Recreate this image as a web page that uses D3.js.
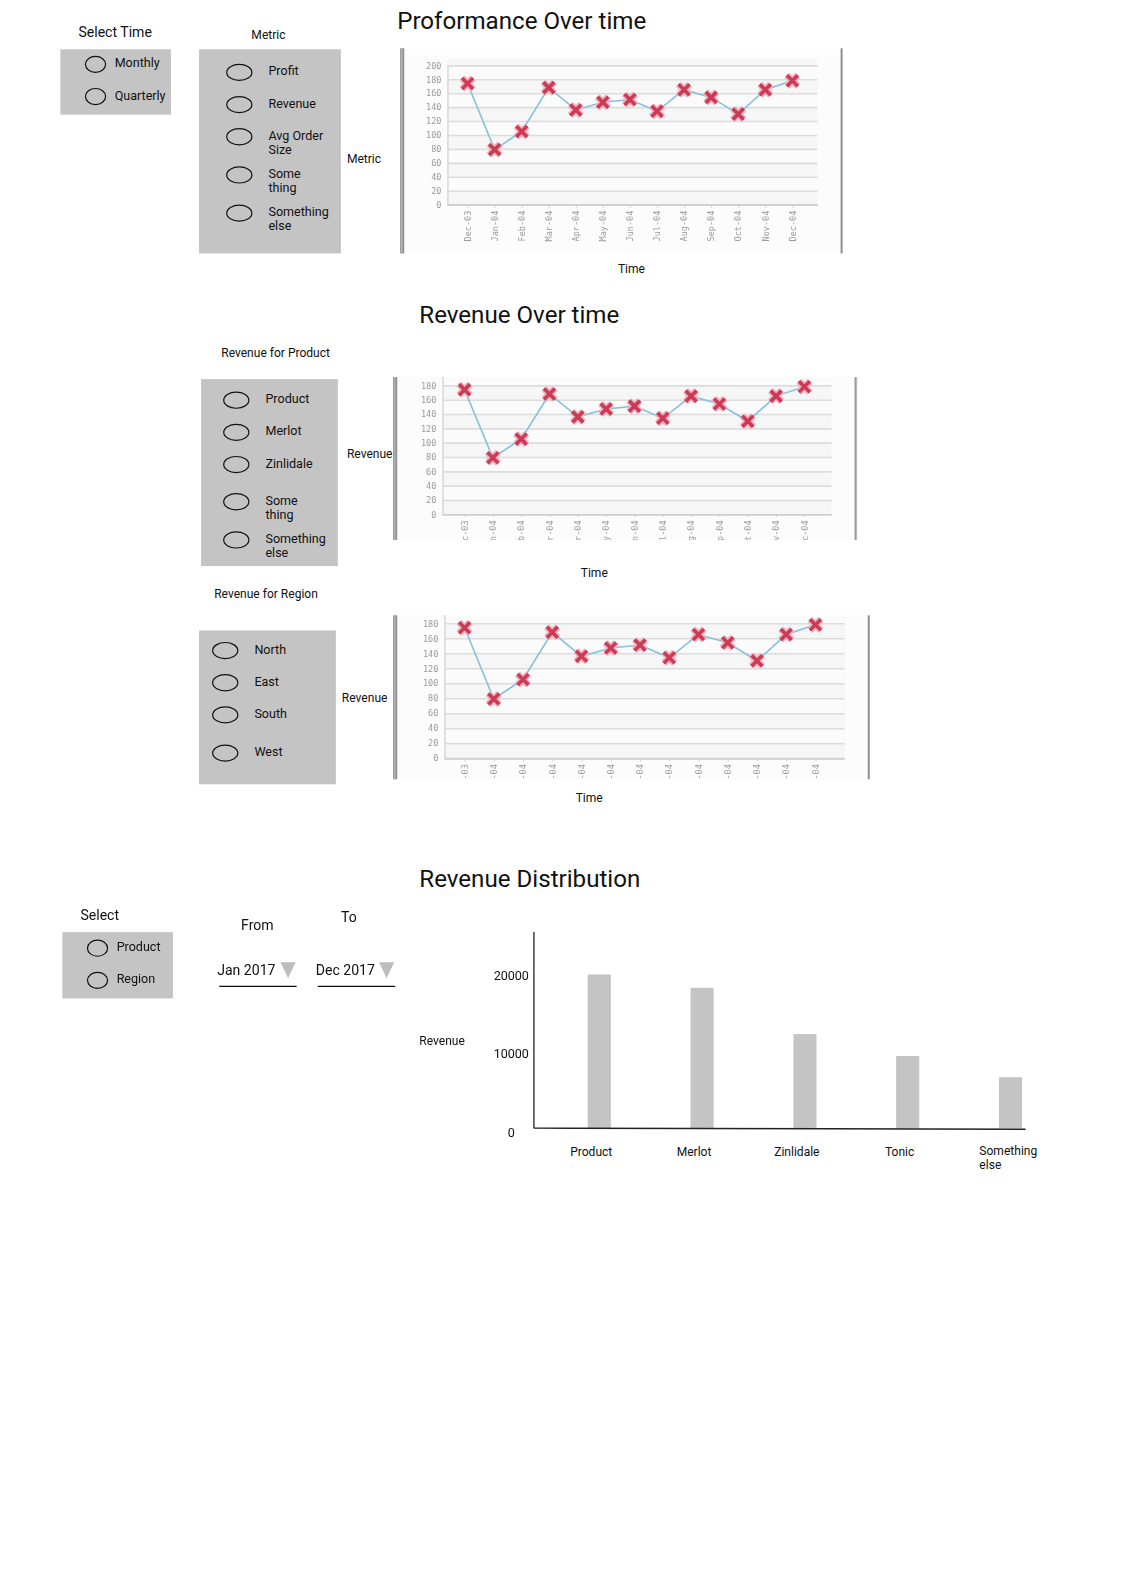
<!DOCTYPE html>
<html>
<head>
<meta charset="utf-8">
<script src="https://cdn.jsdelivr.net/npm/d3@7"></script>
<style>
  html, body { margin: 0; padding: 0; background: #fff; }
  svg { display: block; font-family: Roboto, "Noto Sans", sans-serif; }
</style>
</head>
<body>
<svg id="page" width="1127" height="1576"></svg>
<script>
// ---------------- DATA ----------------
const months = ["Dec-03","Jan-04","Feb-04","Mar-04","Apr-04","May-04","Jun-04","Jul-04","Aug-04","Sep-04","Oct-04","Nov-04","Dec-04"];
const performanceValues = [174, 79, 105, 168, 136, 147, 151, 134, 165, 154, 130, 165, 178];
const revenueProductValues = [174, 79, 105, 168, 136, 147, 151, 134, 165, 154, 130, 165, 178];
const revenueRegionValues = [174, 79, 105, 168, 136, 147, 151, 134, 165, 154, 130, 165, 178];
const lineTicks = [0, 20, 40, 60, 80, 100, 120, 140, 160, 180, 200];

const timeOptions = ["Monthly", "Quarterly"];
const metricOptions = [["Profit"], ["Revenue"], ["Avg Order", "Size"], ["Some", "thing"], ["Something", "else"]];
const productOptions = [["Product"], ["Merlot"], ["Zinlidale"], ["Some", "thing"], ["Something", "else"]];
const regionOptions = [["North"], ["East"], ["South"], ["West"]];
const selectOptions = ["Product", "Region"];

const barCategories = ["Product", "Merlot", "Zinlidale", "Tonic", "Something else"];
const barValues = [19600, 17900, 12000, 9200, 6500];
const barTicks = [0, 10000, 20000];

// ---------------- PAGE ----------------
const page = d3.select("#page");
page.append("rect").attr("width", 1127).attr("height", 1576).attr("fill", "#fff");

const defs = page.append("defs");
defs.append("filter").attr("id", "soft")
  .append("feGaussianBlur").attr("stdDeviation", 0.45);

const svg = page.append("g").attr("transform", "scale(1.0055)");

function text(x, y, str, size, opts = {}) {
  return svg.append("text")
    .attr("x", x).attr("y", y)
    .attr("font-size", size)
    .attr("fill", opts.fill || "#111")
    .attr("text-anchor", opts.anchor || "start")
    .attr("dominant-baseline", "central")
    .text(str);
}

// Titles
text(395, 21, "Proformance Over time", 24);
text(417, 313, "Revenue Over time", 24);
text(417, 874, "Revenue Distribution", 24);

// Radio panel
function radioPanel(box, items, cfg) {
  svg.append("rect").attr("x", box.x).attr("y", box.y).attr("width", box.w).attr("height", box.h)
    .attr("fill", "#c4c4c4");
  items.forEach((lines, i) => {
    const arr = Array.isArray(lines) ? lines : [lines];
    const cy = cfg.ys[i];
    svg.append("ellipse").attr("cx", cfg.cx).attr("cy", cy)
      .attr("rx", cfg.rx).attr("ry", cfg.ry)
      .attr("fill", "none").attr("stroke", "#111").attr("stroke-width", 1.2);
    arr.forEach((t, j) => {
      text(cfg.lx, cy - 1.5 + j * 14, t, 12.5);
    });
  });
}

// Select Time
text(78, 32, "Select Time", 14);
radioPanel({x: 60, y: 49, w: 110, h: 65}, timeOptions, {cx: 95, rx: 10, ry: 8, lx: 114, ys: [64, 96]});

// Metric
text(250, 35, "Metric", 12);
radioPanel({x: 198, y: 49, w: 141, h: 203}, metricOptions, {cx: 238, rx: 12.5, ry: 8, lx: 267, ys: [72, 104, 136, 174, 212]});
text(345, 158, "Metric", 12);
text(628, 268, "Time", 12, {anchor: "middle"});

// Revenue for Product
text(220, 351, "Revenue for Product", 12);
radioPanel({x: 200, y: 377, w: 136, h: 186}, productOptions, {cx: 235, rx: 12.5, ry: 8, lx: 264, ys: [398, 430, 462, 499, 537]});
text(345, 452, "Revenue", 12);
text(591, 570, "Time", 12, {anchor: "middle"});

// Revenue for Region
text(213, 591, "Revenue for Region", 12);
radioPanel({x: 198, y: 627, w: 136, h: 153}, regionOptions, {cx: 224, rx: 12.5, ry: 8, lx: 253, ys: [647, 679, 711, 749]});
text(340, 694, "Revenue", 12);
text(586, 794, "Time", 12, {anchor: "middle"});

// ---------------- LINE CHARTS ----------------
let clipId = 0;
function lineChart(values, frame, plot) {
  const id = "clip" + (clipId++);
  defs.append("clipPath").attr("id", id)
    .append("rect").attr("x", frame.x0).attr("y", frame.y0)
    .attr("width", frame.x1 - frame.x0).attr("height", frame.y1 - frame.y0);

  const g = svg.append("g").attr("clip-path", `url(#${id})`);
  const inner = g.append("g").attr("filter", "url(#soft)");

  const x = d3.scalePoint().domain(months).range([plot.first, plot.last]);
  const y = d3.scaleLinear().domain([0, 200]).range([plot.zero, plot.top]);

  // background
  inner.append("rect").attr("x", frame.x0).attr("y", frame.y0)
    .attr("width", frame.x1 - frame.x0).attr("height", frame.y1 - frame.y0).attr("fill", "#fcfcfc");
  inner.append("rect").attr("x", plot.left).attr("y", y(200) - 6)
    .attr("width", plot.right - plot.left).attr("height", y(0) - y(200) + 6).attr("fill", "#f6f6f6");

  // alternating bands
  inner.selectAll(".band").data(lineTicks.slice(0, -1).filter((d, i) => i % 2 === 1)).join("rect")
    .attr("x", plot.left).attr("width", plot.right - plot.left)
    .attr("y", d => y(d + 20)).attr("height", d => y(d) - y(d + 20))
    .attr("fill", "#fbfbfb");

  // grid lines
  const yAxis = d3.axisLeft(y).tickValues(lineTicks).tickSize(-(plot.right - plot.left)).tickPadding(6);
  const ya = inner.append("g").attr("transform", `translate(${plot.left},0)`).call(yAxis);
  ya.select(".domain").attr("stroke", "#d8d8d8").attr("stroke-width", 1.5);
  ya.selectAll(".tick line").attr("stroke", "#dcdcdc").attr("stroke-width", 1.6);
  ya.selectAll(".tick text").attr("fill", "#9a9a9a").attr("font-size", 8.5)
    .attr("font-family", "DejaVu Sans Mono, monospace");

  // x axis
  const xAxis = d3.axisBottom(x).tickSize(3).tickPadding(4);
  const xa = inner.append("g").attr("transform", `translate(0,${plot.zero})`).call(xAxis);
  xa.select(".domain").attr("d", `M${plot.left},0.5H${plot.right}`).attr("stroke", "#cfcfcf").attr("stroke-width", 1.5);
  xa.selectAll(".tick line").attr("stroke", "#cfcfcf");
  xa.selectAll(".tick text").attr("fill", "#9a9a9a").attr("font-size", 8.5)
    .attr("font-family", "DejaVu Sans Mono, monospace")
    .attr("text-anchor", "end").attr("dy", "0.32em")
    .attr("transform", "translate(0,6) rotate(-90)").attr("x", 0).attr("y", 0);

  // line
  const line = d3.line().x((d, i) => x(months[i])).y(d => y(d));
  inner.append("path").datum(values).attr("d", line)
    .attr("fill", "none").attr("stroke", "#87c0dc").attr("stroke-width", 1.6);

  // markers
  const sym = d3.symbol().type(d3.symbolX).size(80);
  inner.selectAll(".halo").data(values).join("path")
    .attr("d", sym).attr("transform", (d, i) => `translate(${x(months[i])},${y(d)})`)
    .attr("fill", "none").attr("stroke", "#efb3bf").attr("stroke-width", 7);
  inner.selectAll(".mk").data(values).join("path")
    .attr("d", sym).attr("transform", (d, i) => `translate(${x(months[i])},${y(d)})`)
    .attr("fill", "none").attr("stroke", "#cc3a57").attr("stroke-width", 3.6);

  // frame borders
  svg.append("rect").attr("x", frame.x0).attr("y", frame.y0).attr("width", 4).attr("height", frame.y1 - frame.y0)
    .attr("fill", "#8a8a8a");
  svg.append("rect").attr("x", frame.x0 + 1).attr("y", frame.y0).attr("width", 1.5).attr("height", frame.y1 - frame.y0)
    .attr("fill", "#b8b8b8");
  svg.append("rect").attr("x", frame.x1 - 2).attr("y", frame.y0).attr("width", 2).attr("height", frame.y1 - frame.y0)
    .attr("fill", "#8f8f8f");
}

lineChart(performanceValues,
  {x0: 398, y0: 48, x1: 838, y1: 252},
  {left: 445, right: 813, zero: 203.5, top: 65, first: 465, last: 788});

lineChart(revenueProductValues,
  {x0: 391, y0: 375, x1: 852, y1: 537},
  {left: 440, right: 827, zero: 511.5, top: 369, first: 462, last: 800});

lineChart(revenueRegionValues,
  {x0: 391, y0: 612, x1: 865, y1: 775},
  {left: 442, right: 840, zero: 754, top: 605, first: 462, last: 811});

// ---------------- BOTTOM CONTROLS ----------------
text(80, 910, "Select", 14);
radioPanel({x: 62, y: 927, w: 110, h: 66}, selectOptions, {cx: 97, rx: 10, ry: 8, lx: 116, ys: [943, 975]});

text(256, 920, "From", 14, {anchor: "middle"});
text(347, 912, "To", 14, {anchor: "middle"});

function dropdown(x, label) {
  text(x, 965, label, 14);
  svg.append("path").attr("d", `M${x + 63},957 L${x + 78},957 L${x + 70.5},973 Z`).attr("fill", "#bdbdbd");
  svg.append("line").attr("x1", x + 2).attr("x2", x + 79).attr("y1", 981).attr("y2", 981)
    .attr("stroke", "#111").attr("stroke-width", 1.2);
}
dropdown(216, "Jan 2017");
dropdown(314, "Dec 2017");

// ---------------- BAR CHART ----------------
text(417, 1035, "Revenue", 12);

const bx = d3.scalePoint().domain(barCategories).range([596, 1005]);
const by = d3.scaleLinear().domain([0, 25000]).range([1122, 927]);
const barW = 23;

svg.selectAll(".bar").data(barValues).join("rect")
  .attr("x", (d, i) => bx(barCategories[i]) - barW / 2)
  .attr("y", d => by(d))
  .attr("width", barW)
  .attr("height", d => by(0) - by(d))
  .attr("fill", "#c4c4c4");

// axes
svg.append("line").attr("x1", 531).attr("x2", 531).attr("y1", by(25000)).attr("y2", by(0))
  .attr("stroke", "#111").attr("stroke-width", 1.2);
svg.append("line").attr("x1", 531).attr("x2", 1020).attr("y1", by(0)).attr("y2", by(0) + 1)
  .attr("stroke", "#222").attr("stroke-width", 1.4);

const byAxis = d3.axisLeft(by).tickValues(barTicks).tickSize(0).tickPadding(5).tickFormat(d3.format("d"));
const bya = svg.append("g").attr("transform", "translate(531,4)").call(byAxis);
bya.select(".domain").remove();
bya.selectAll(".tick text").attr("font-size", 12.5).attr("fill", "#111").attr("font-family", "Roboto, sans-serif");
bya.selectAll(".tick").filter(d => d === 0).select("text").attr("dx", -14);

// category labels
svg.selectAll(".cat").data(barCategories).join("text")
  .attr("x", d => d === "Something else" ? bx(d) - 31 : bx(d) - 8)
  .attr("y", 1146)
  .attr("font-size", 12)
  .attr("fill", "#111")
  .attr("text-anchor", d => d === "Something else" ? "start" : "middle")
  .attr("dominant-baseline", "central")
  .each(function(d) {
    const parts = d === "Something else" ? ["Something", "else"] : [d];
    const t = d3.select(this);
    parts.forEach((p, j) => {
      t.append("tspan").attr("x", t.attr("x")).attr("dy", j === 0 ? (parts.length > 1 ? "-0.1em" : "0") : "1.15em").text(p);
    });
  });
</script>
</body>
</html>
